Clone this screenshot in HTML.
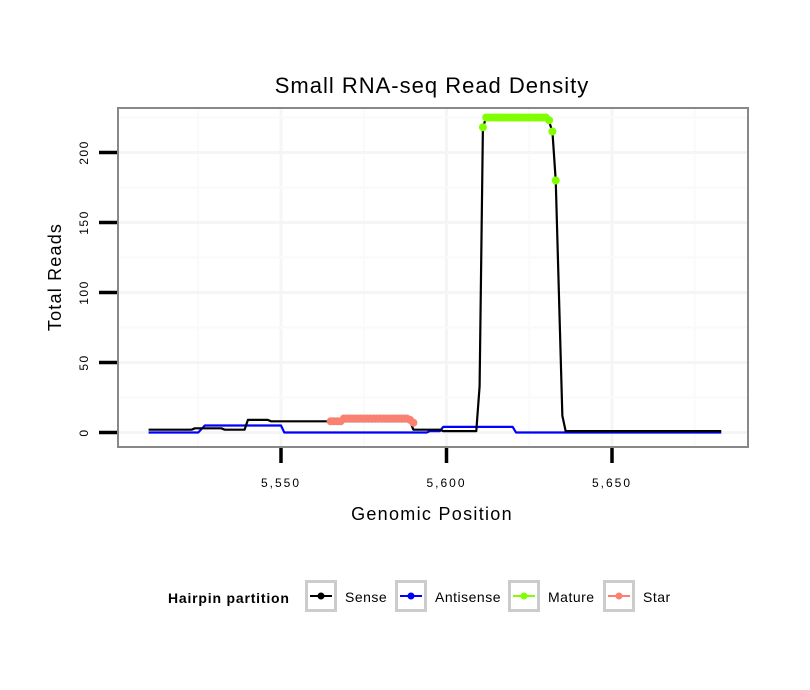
<!DOCTYPE html>
<html><head><meta charset="utf-8"><style>
body{margin:0;background:#fff;}
svg{display:block;font-family:"Liberation Sans",sans-serif;}
</style></head><body>
<svg id="chart" width="810" height="690">
<rect x="0" y="0" width="810" height="690" fill="#fff"/>
<g id="grid"></g>
<g id="series"></g>
<rect x="118" y="108" width="630" height="339" fill="none" stroke="#888" stroke-width="2"/>
<g id="axes"></g>
<text x="432" y="93" text-anchor="middle" font-size="22" letter-spacing="1" fill="#000">Small RNA-seq Read Density</text>
<text x="432" y="520" text-anchor="middle" font-size="18" letter-spacing="1.3" fill="#000">Genomic Position</text>
<text transform="translate(61,277) rotate(-90)" text-anchor="middle" font-size="18" letter-spacing="1.2" fill="#000">Total Reads</text>
<g>
<text x="168" y="603" font-size="14" font-weight="bold" letter-spacing="0.8">Hairpin partition</text>
<g id="legend"></g>
</g>
</svg>
<script>
const senseX=[5510,5523,5524,5532,5533,5539,5540,5546,5547,5589,5590,5598,5599,5609,5610,5611,5612,5630,5631,5632,5633,5635,5636,5683];
const senseY=[2,2,3,3,2,2,9,9,8,8,2,2,1,1,33,218,225,225,222,215,180,12,1,1];
const antiX=[5510,5525,5527,5550,5551,5594,5595,5598,5599,5620,5621,5683];
const antiY=[0,0,5,5,0,0,1,1,4,4,0,0];
const starX=[5565,5566,5567,5568,5569,5570,5571,5572,5573,5574,5575,5576,5577,5578,5579,5580,5581,5582,5583,5584,5585,5586,5587,5588,5589,5590];
const starY=[8,8,8,8,10,10,10,10,10,10,10,10,10,10,10,10,10,10,10,10,10,10,10,10,9,7];
const matureX=[5611,5612,5613,5614,5615,5616,5617,5618,5619,5620,5621,5622,5623,5624,5625,5626,5627,5628,5629,5630,5631,5632,5633];
const matureY=[218,225,225,225,225,225,225,225,225,225,225,225,225,225,225,225,225,225,225,225,223,215,180];
const xTicks=[5550,5600,5650];
const xTickLabels=["5,550","5,600","5,650"];
const yTicks=[0,50,100,150,200];
const yTickLabels=["0","50","100","150","200"];
const legendLabels=["Sense","Antisense","Mature","Star"];
const legendColors=["#000000","#0000ff","#80ff00","#fa8072"];

const NS="http://www.w3.org/2000/svg";
function X(v){return 281+(v-5550)*3.31;}
function Y(v){return 432.5-v*1.4;}
function mk(tag,attrs,parent){const e=document.createElementNS(NS,tag);for(const k in attrs)e.setAttribute(k,attrs[k]);parent.appendChild(e);return e;}
const grid=document.getElementById('grid');
for(let v=5525;v<=5675;v+=25){
  const l=mk('line',{x1:X(v),x2:X(v),y1:108,y2:447,stroke:(v%50===0)?'#f5f5f5':'#fafafa','stroke-width':(v%50===0)?3:2},grid);
  
  
}
for(let v=0;v<=225;v+=25){
  const l=mk('line',{x1:118,x2:748,y1:Y(v),y2:Y(v),stroke:(v%50===0)?'#f5f5f5':'#fafafa','stroke-width':(v%50===0)?3:2},grid);
  
  
}
const axes=document.getElementById('axes');
xTicks.forEach((t,i)=>{
  const l=mk('line',{x1:X(t),x2:X(t),y1:448,y2:463,stroke:'#000','stroke-width':3.5},axes);
  
  
  const tx=mk('text',{x:X(t),y:487,'text-anchor':'middle','font-size':12,'letter-spacing':2},axes);
  tx.textContent=xTickLabels[i];
  
  
});
yTicks.forEach((t,i)=>{
  const l=mk('line',{x1:99,x2:117,y1:Y(t),y2:Y(t),stroke:'#000','stroke-width':3.5},axes);
  
  
  const tx=mk('text',{transform:`translate(88,${Y(t)}) rotate(-90)`,'text-anchor':'middle','font-size':12,'letter-spacing':1.5},axes);
  tx.textContent=yTickLabels[i];
  
  
});
const ser=document.getElementById('series');
function line(xs,ys,color,name){
  const p=mk('polyline',{points:xs.map((x,i)=>X(x)+','+Y(ys[i])).join(' '),fill:'none',stroke:color,'stroke-width':2.2,'stroke-linejoin':'round'},ser);
  
  
}
function pts(xs,ys,color,name){
  xs.forEach((x,i)=>{
    const c=mk('circle',{cx:X(x),cy:Y(ys[i]),r:4,fill:color},ser);
    
    
  });
}
line(antiX,antiY,'#0000ff','antisense-line');
line(senseX,senseY,'#000000','sense-line');
pts(starX,starY,'#fa8072','star');
pts(matureX,matureY,'#80ff00','mature');
const lg=document.getElementById('legend');
const boxX=[305,395,508,603];
legendLabels.forEach((lab,i)=>{
  const g=mk('g',{},lg);
  
  
  mk('rect',{x:boxX[i]+1.5,y:581.5,width:29,height:29,fill:'#fff',stroke:'#cccccc','stroke-width':3},g);
  mk('line',{x1:boxX[i]+5,x2:boxX[i]+27,y1:596,y2:596,stroke:legendColors[i],'stroke-width':2},g);
  mk('circle',{cx:boxX[i]+16,cy:596,r:3.5,fill:legendColors[i]},g);
  const t=mk('text',{x:boxX[i]+40,y:602,'font-size':14,'letter-spacing':0.5},g);
  t.textContent=lab;
});
</script>
</body></html>
